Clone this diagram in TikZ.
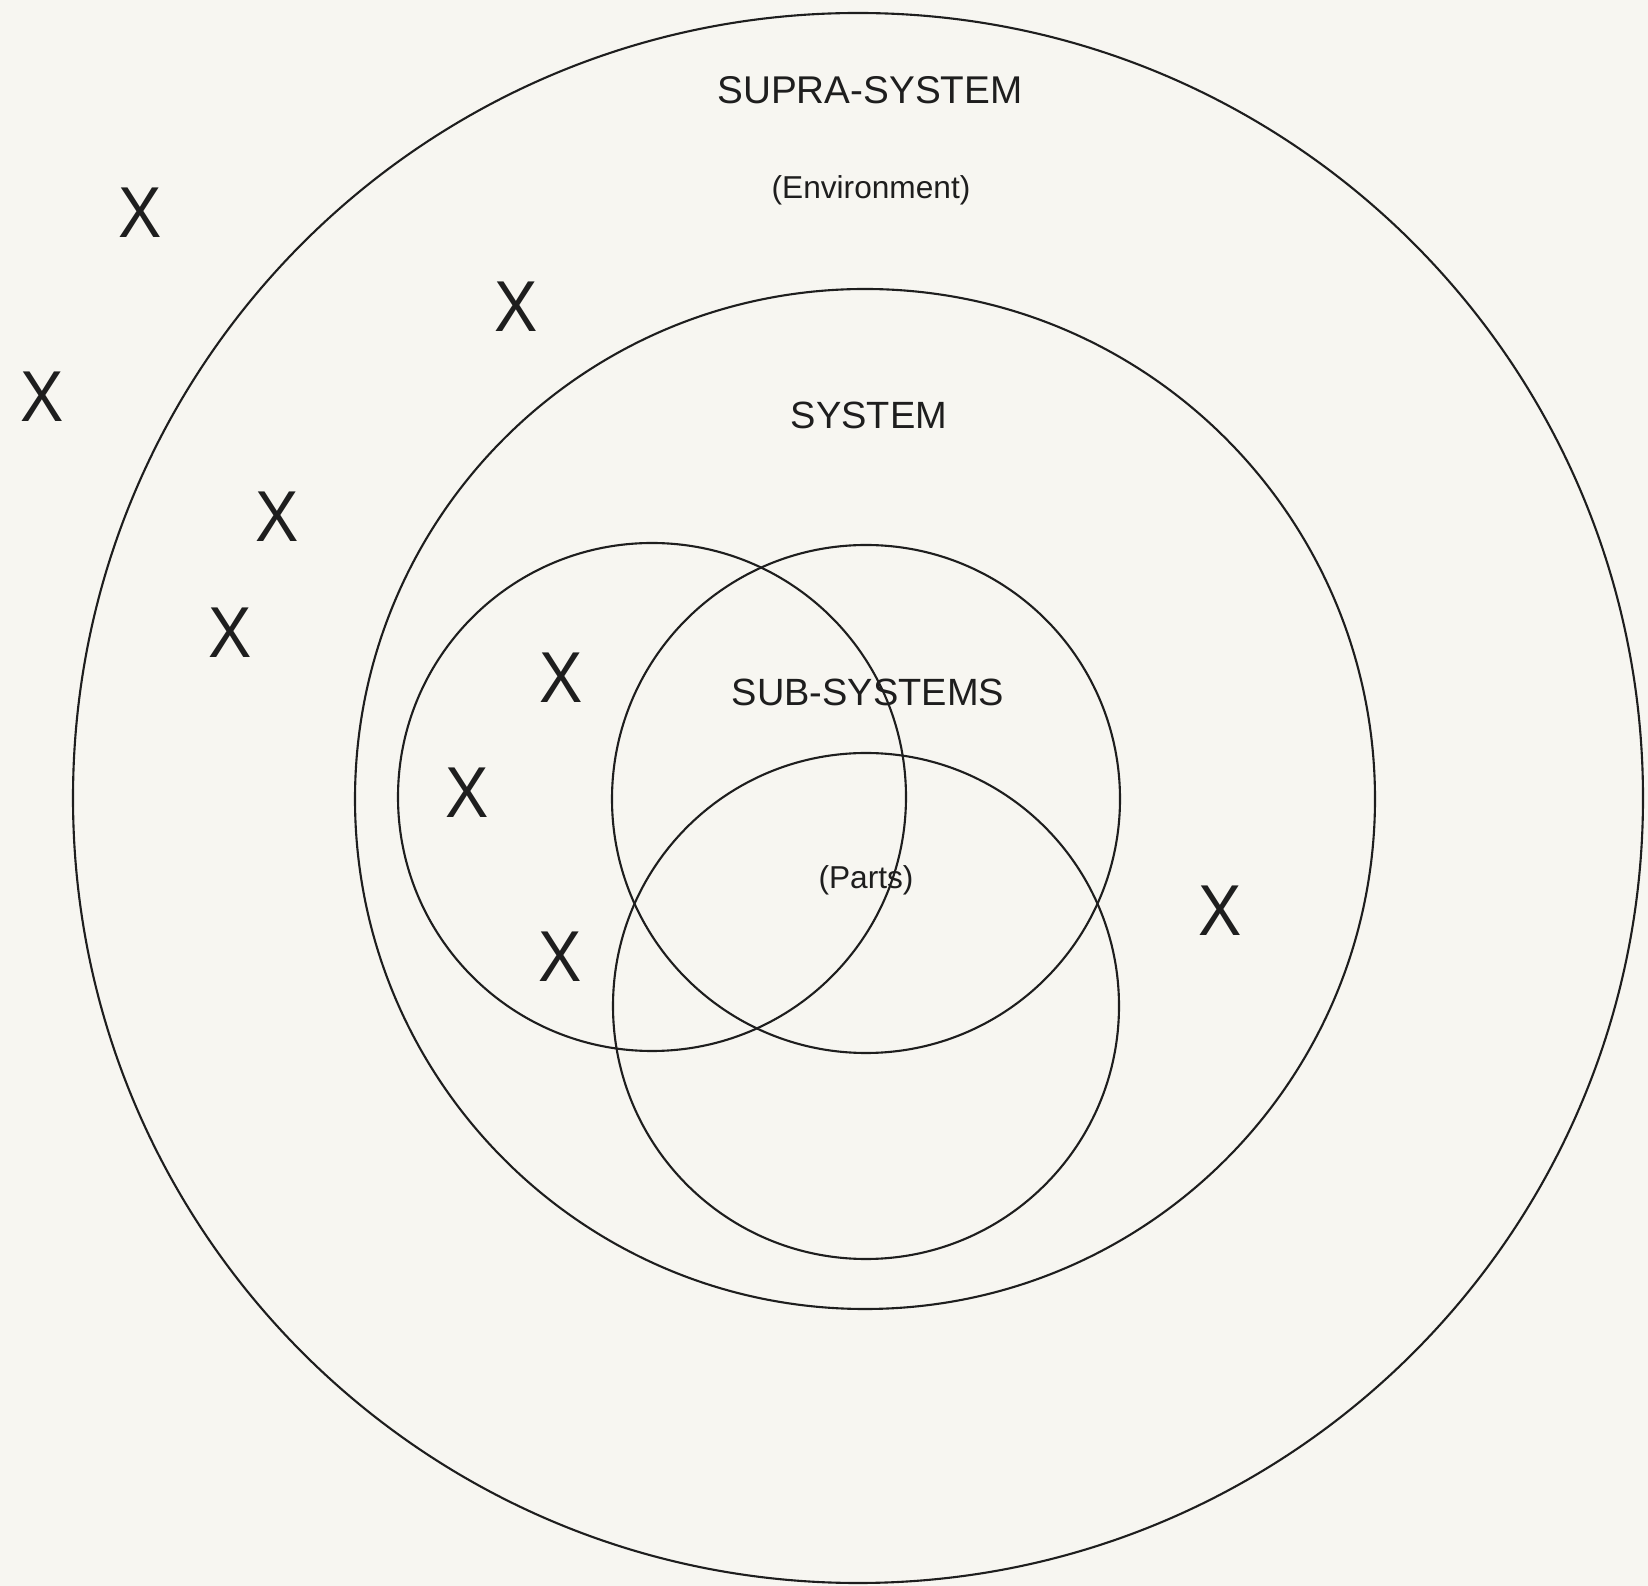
\documentclass[tikz,border=0pt]{standalone}
\usepackage{fontspec}
\setmainfont{Liberation Sans}
\usepackage{xcolor}
\usepackage{tikz}
\definecolor{paper}{RGB}{247,246,241}
\definecolor{ink}{RGB}{30,30,30}

\begin{document}
\begin{tikzpicture}[
  x=0.01cm, y=-0.01cm,
  ring/.style={draw=ink, line width=0.6pt},
  bigtxt/.style={text=ink, inner sep=0pt, font=\fontsize{11}{13}\selectfont},
  smalltxt/.style={text=ink, inner sep=0pt, font=\fontsize{9}{11}\selectfont},
  xmark/.style={text=ink, inner sep=0pt, font=\fontsize{20.5}{22}\selectfont},
]
\def\nar{0.9} % width of the X glyphs
% page
\fill[paper] (0,0) rectangle (1648,1586);
\useasboundingbox (0,0) rectangle (1648,1586);
% supra-system, system and the three sub-systems
\draw[ring] (858,798) circle (785);
\draw[ring] (865,799) circle (510);
\draw[ring] (652,797) circle (254);
\draw[ring] (866,799) circle (254);
\draw[ring] (866,1006) circle (253);
% labels
\node[bigtxt] (supra) at (870,90) {SUPRA-SYSTEM};
\node[smalltxt] (env) at (871,190) {(Environment)};
\node[bigtxt, font=\fontsize{10.8}{13}\selectfont] (sys) at (869,415) {SYSTEM};
\node[bigtxt, font=\fontsize{10.8}{13}\selectfont] (subs) at (868,692) {SUB-SYSTEMS};
\node[smalltxt] (parts) at (866,880) {(Parts)};
% elements scattered over the levels
\foreach \n/\px/\py in {1/140/213, 2/516/307, 3/42/397, 4/277/517, 5/230/633,
                        6/561/678, 7/467/793, 8/560/957, 9/1220/911}{
  \node[xmark] (x\n) at (\px,\py) {\scalebox{\nar}[1]{X}};
}
\end{tikzpicture}
\end{document}
